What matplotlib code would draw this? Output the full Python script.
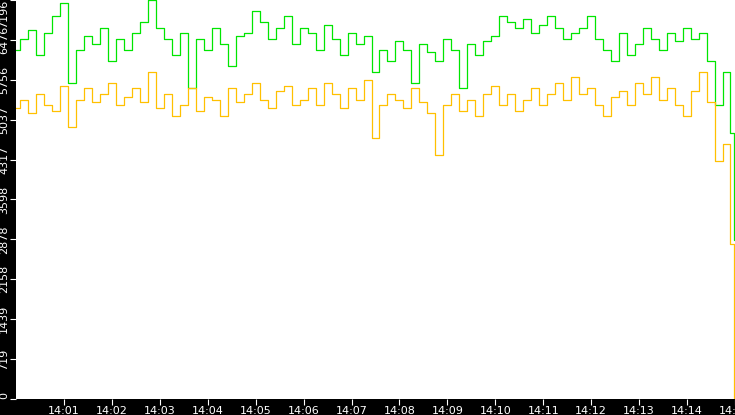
import matplotlib
matplotlib.use("Agg")
import matplotlib.pyplot as plt

# values sampled every 10 s from 14:00:00, then the final drop at 14:15
SECONDS = list(range(0, 900, 10)) + [897, 900]
GREEN = [6300, 6500, 6650, 6200, 6600, 6900, 7150, 5700, 6300, 6550,
         6400, 6700, 6100, 6500, 6300, 6600, 6800, 7196, 6700, 6500,
         6200, 6600, 5600, 6500, 6300, 6700, 6400, 6000, 6550, 6600,
         7000, 6800, 6500, 6700, 6900, 6400, 6700, 6600, 6300, 6750,
         6500, 6200, 6600, 6400, 6550, 5900, 6300, 6100, 6450, 6300,
         5700, 6400, 6250, 6100, 6500, 6300, 5600, 6400, 6200, 6450,
         6550, 6900, 6800, 6700, 6850, 6600, 6750, 6900, 6700, 6500,
         6600, 6700, 6900, 6500, 6300, 6100, 6600, 6200, 6400, 6700,
         6500, 6300, 6600, 6450, 6700, 6500, 6600, 6100, 5300, 5900,
         4800, 2870]
ORANGE = [5250, 5400, 5150, 5500, 5300, 5200, 5650, 4900, 5400, 5600,
          5350, 5500, 5700, 5300, 5450, 5600, 5350, 5900, 5250, 5500,
          5100, 5300, 5600, 5200, 5450, 5400, 5100, 5600, 5350, 5500,
          5700, 5400, 5250, 5550, 5650, 5300, 5400, 5600, 5300, 5700,
          5500, 5250, 5600, 5400, 5750, 4700, 5300, 5500, 5400, 5250,
          5600, 5350, 5150, 4400, 5300, 5500, 5200, 5400, 5100, 5500,
          5650, 5300, 5500, 5200, 5400, 5600, 5300, 5500, 5700, 5400,
          5800, 5500, 5600, 5300, 5100, 5450, 5550, 5300, 5700, 5500,
          5800, 5400, 5600, 5300, 5100, 5550, 5900, 5350, 4300, 4600,
          2800, 0]
Y_TICKS = [0, 719, 1439, 2158, 2878, 3598, 4317, 5037, 5756, 6476, 7196]
X_TICKS = list(range(60, 901, 60))
X_LABELS = [f"14:{m:02d}" for m in range(1, 16)]

fig = plt.figure(figsize=(7.35, 4.15), dpi=100, facecolor="black")
ax = fig.add_axes([16 / 735, 16 / 415, 719 / 735, 399 / 415])
ax.set_facecolor("white")

ax.plot(SECONDS, GREEN, color="#00e600", lw=0.9, drawstyle="steps-mid")
ax.plot(SECONDS, ORANGE, color="#ffc000", lw=0.9, drawstyle="steps-mid")

ax.set_xlim(0, 900)
ax.set_ylim(0, 7196)
ax.set_yticks(Y_TICKS)
ax.set_yticklabels([str(v) for v in Y_TICKS], rotation=90, va="center")
# keep the end labels inside the strip
ylabels = ax.get_yticklabels()
ylabels[0].set_va("bottom")
ylabels[-1].set_va("top")
ax.set_xticks(X_TICKS)
ax.set_xticklabels(X_LABELS)
ax.tick_params(colors="white", labelsize=8, length=4, pad=1, direction="out")
for s in ax.spines.values():
    s.set_visible(False)

fig.savefig("out.png", dpi=100, facecolor="black")
